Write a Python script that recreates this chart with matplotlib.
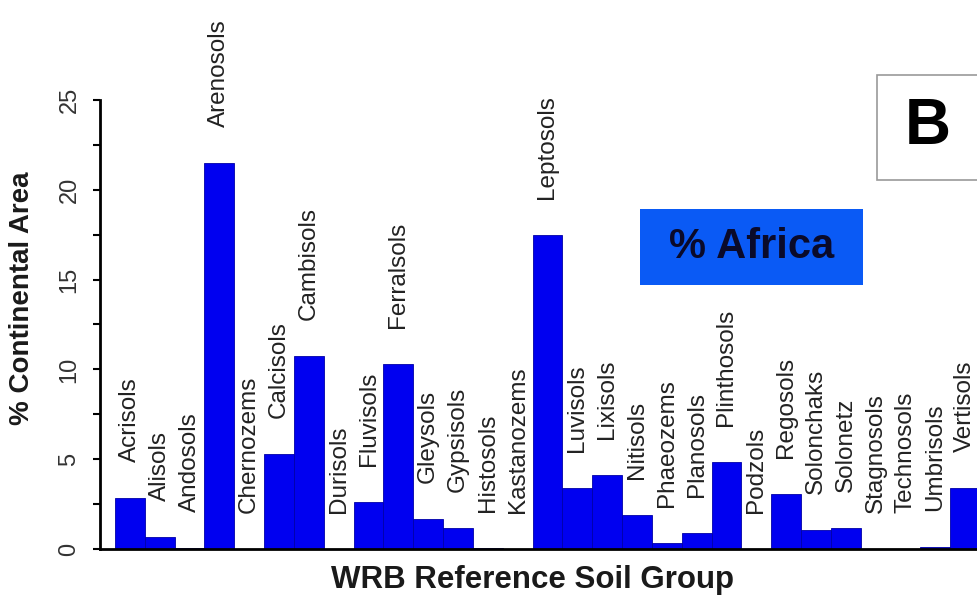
#!/usr/bin/env python3
"""
WRB Reference Soil Groups - % of African continental area
"""

import matplotlib
matplotlib.use('Agg')
import matplotlib.pyplot as plt
from matplotlib.patches import Rectangle

plt.rcParams['font.family'] = ['Liberation Sans', 'DejaVu Sans']

# Data
soil_groups = ['Acrisols', 'Alisols', 'Andosols', 'Arenosols', 'Chernozems',
               'Calcisols', 'Cambisols', 'Durisols', 'Fluvisols', 'Ferralsols',
               'Gleysols', 'Gypsisols', 'Histosols', 'Kastanozems', 'Leptosols',
               'Luvisols', 'Lixisols', 'Nitisols', 'Phaeozems', 'Planosols',
               'Plinthosols', 'Podzols', 'Regosols', 'Solonchaks', 'Solonetz',
               'Stagnosols', 'Technosols', 'Umbrisols', 'Vertisols']
africa_pct = [2.85, 0.67, 0.05, 21.5, 0.0,
              5.3, 10.75, 0.02, 2.64, 10.3,
              1.66, 1.16, 0.05, 0.02, 17.5,
              3.4, 4.1, 1.9, 0.35, 0.88,
              4.82, 0.02, 3.07, 1.06, 1.16,
              0.0, 0.0, 0.1, 3.4]
y_ticks = [0, 5, 10, 15, 20, 25]

fig = plt.figure(figsize=(9.77, 5.96), dpi=100)
ax = fig.add_axes([0.1024, 0.0789, 0.8976, 0.7533])

x = list(range(len(soil_groups)))
ax.bar(x, africa_pct, width=1.0, color='#0000f0', edgecolor='#0000a8',
       linewidth=0.6)

# category names above each bar
for i, (name, val) in enumerate(zip(soil_groups, africa_pct)):
    ax.text(i, val + 2.0, name, rotation=90, ha='center', va='bottom',
            fontsize=17.5, color='#222222')

ax.set_xlim(-1.0, 28.4)
ax.set_ylim(0, 25)
ax.set_xticks([])
ax.set_yticks(y_ticks)
ax.set_yticks([2.5, 7.5, 12.5, 17.5, 22.5], minor=True)
ax.set_yticklabels([str(t) for t in y_ticks], rotation=90, va='center',
                   fontsize=17, color='#333333')
ax.tick_params(axis='y', which='both', direction='out', length=5,
               width=1.5, pad=9)

for side in ['top', 'right']:
    ax.spines[side].set_visible(False)
ax.spines['left'].set_linewidth(2)
ax.spines['bottom'].set_linewidth(2)

ax.set_ylabel('% Continental Area', fontsize=20, fontweight='bold',
              color='#1a1a1a')
ax.yaxis.set_label_coords(-0.074, 0.559)
fig.text(0.5455, 0.027, 'WRB Reference Soil Group', ha='center',
         va='center', fontsize=22.5, fontweight='bold', color='#1a1a1a')

# panel letter box
fig.patches.append(Rectangle((0.8977, 0.698), 0.2, 0.176,
                             transform=fig.transFigure, facecolor='white',
                             edgecolor='#999999', linewidth=1.2))
fig.text(0.950, 0.787, 'B', ha='center', va='center', fontsize=46,
         fontweight='bold', color='black')

# "% Africa" legend box
fig.patches.append(Rectangle((0.655, 0.5218), 0.228, 0.1275,
                             transform=fig.transFigure, facecolor='#0a5af5',
                             edgecolor='none'))
fig.text(0.769, 0.5856, '% Africa', ha='center', va='center', fontsize=30,
         fontweight='bold', color='#0a0a2a')

fig.savefig('out.png', dpi=100, facecolor='white')
plt.close(fig)
